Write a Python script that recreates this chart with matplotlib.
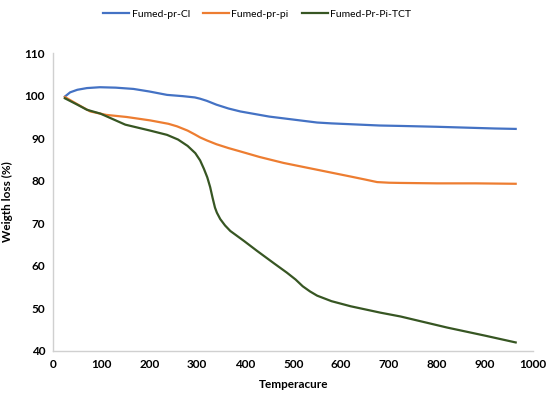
import matplotlib
matplotlib.use("Agg")
import matplotlib.pyplot as plt

plt.rcParams['font.family'] = ['Lato', 'DejaVu Sans']

# TGA curves
temp_cl = [24, 35, 50, 70, 97, 130, 167, 200, 237, 270, 295, 306, 320, 340, 365, 390, 420, 450, 500, 550, 580, 620, 680, 724, 800, 860, 920, 964]
weight_cl = [99.8, 100.8, 101.4, 101.8, 102.0, 101.9, 101.6, 101.0, 100.2, 99.9, 99.6, 99.3, 98.8, 97.9, 97.0, 96.3, 95.7, 95.1, 94.4, 93.7, 93.5, 93.3, 93.0, 92.9, 92.7, 92.5, 92.3, 92.2]

temp_pi = [24, 50, 77, 110, 153, 202, 240, 258, 280, 295, 306, 320, 340, 365, 390, 430, 480, 550, 620, 650, 675, 700, 724, 800, 880, 964]
weight_pi = [99.7, 98.0, 96.3, 95.5, 95.0, 94.2, 93.4, 92.8, 91.8, 90.9, 90.2, 89.5, 88.6, 87.7, 86.9, 85.6, 84.2, 82.6, 81.0, 80.3, 79.7, 79.55, 79.5, 79.4, 79.4, 79.3]

temp_tct = [24, 50, 70, 98, 150, 202, 237, 260, 280, 296, 306, 314, 321, 327, 332, 337, 341, 348, 358, 369, 397, 425, 460, 487, 505, 520, 535, 550, 580, 620, 682, 724, 821, 900, 964]
weight_tct = [99.4, 97.9, 96.7, 95.8, 93.2, 91.8, 90.8, 89.7, 88.2, 86.5, 84.8, 82.8, 80.8, 78.5, 76.0, 73.7, 72.5, 71.0, 69.5, 68.2, 65.9, 63.5, 60.6, 58.4, 56.8, 55.2, 54.0, 53.0, 51.7, 50.5, 49.0, 48.1, 45.5, 43.6, 42.0]

fig = plt.figure(figsize=(5.5, 3.97), dpi=100)
ax = fig.add_axes([0.097, 0.116, 0.872, 0.75])

ax.plot(temp_cl, weight_cl, color='#4472C4', lw=1.6, label='Fumed-pr-Cl', solid_joinstyle='round')
ax.plot(temp_pi, weight_pi, color='#ED7D31', lw=1.6, label='Fumed-pr-pi', solid_joinstyle='round')
ax.plot(temp_tct, weight_tct, color='#375623', lw=1.6, label='Fumed-Pr-Pi-TCT', solid_joinstyle='round')

ax.set_xlim(0, 1000)
ax.set_ylim(40, 110)
ax.set_xticks(range(0, 1001, 100))
ax.set_yticks(range(40, 111, 10))
ax.tick_params(length=0, labelsize=8.5, pad=6)
for lab in ax.get_xticklabels() + ax.get_yticklabels():
    lab.set_fontweight('bold')

for s in ['top', 'right']:
    ax.spines[s].set_visible(False)
for s in ['left', 'bottom']:
    ax.spines[s].set_color('#D0D0D0')
    ax.spines[s].set_linewidth(1.0)

ax.set_xlabel('Temperacure', fontsize=8.5, fontweight='bold', labelpad=6)
ax.set_ylabel('Weigth loss (%)', fontsize=8.5, fontweight='bold', labelpad=8)

fig.legend(loc='upper center', bbox_to_anchor=(0.468, 1.0), ncol=3, frameon=False,
           fontsize=7.5, handlelength=2.5, columnspacing=1.3, handletextpad=0.2)

fig.savefig('out.png', dpi=100)
